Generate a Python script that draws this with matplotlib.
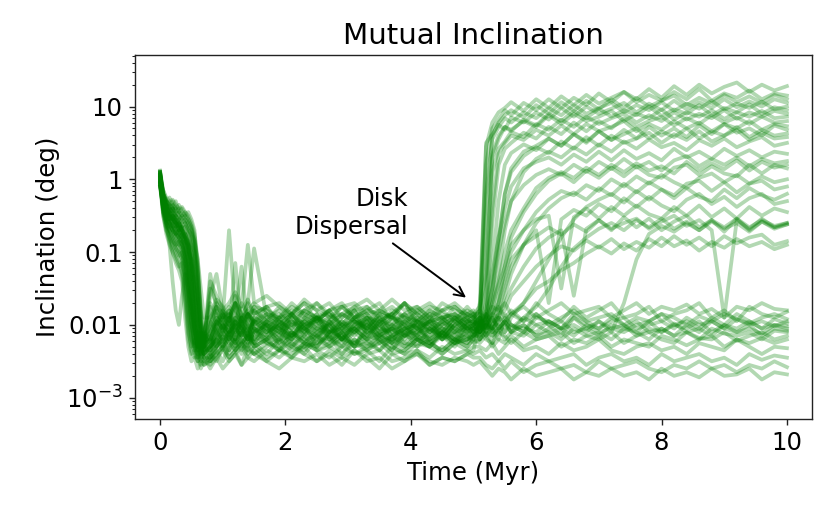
import matplotlib
matplotlib.use("Agg")
import matplotlib.pyplot as plt
import numpy as np
from matplotlib.ticker import FixedLocator, FixedFormatter, LogLocator, NullFormatter

plt.rcParams['font.family'] = ['DejaVu Sans']
FS = 17.6

# Time samples (Myr)
T_early = [0.0, 0.05, 0.1, 0.15, 0.2, 0.25, 0.3, 0.35, 0.4, 0.45, 0.5, 0.55, 0.6, 0.65, 0.7,
           0.8, 0.9, 1.0, 1.1, 1.2, 1.3, 1.4, 1.5, 1.7, 1.9, 2.1, 2.3, 2.5, 2.7, 2.9, 3.1,
           3.3, 3.5, 3.7, 3.9, 4.1, 4.3, 4.5, 4.7, 4.9, 5.0]
T_late = [5.1, 5.2, 5.3, 5.4, 5.5, 5.6, 5.8, 6.0, 6.2, 6.4, 6.6, 6.8, 7.0, 7.2, 7.4, 7.6,
          7.8, 8.0, 8.2, 8.4, 8.6, 8.8, 9.0, 9.2, 9.4, 9.6, 9.8, 10.0]

# log10 of mutual inclination (deg)
upper_early = [
    [0.1, -0.2, -0.3, -0.35, -0.3, -0.4, -0.45, -0.4, -0.5, -0.55, -0.65, -0.9, -1.5, -2.1, -2.3,
     -2.1, -1.9, -2.0, -2.15, -1.95, -2.05, -2.2, -1.9, -2.0, -2.1, -1.85, -2.0, -2.1, -1.95, -2.2, -2.0, -1.9, -2.1, -2.0, -2.15, -1.95, -2.05, -2.2, -2.0, -1.9, -2.0],
    [0.0, -0.3, -0.35, -0.55, -0.6, -0.55, -0.7, -0.8, -0.75, -1.0, -1.1, -1.5, -2.0, -2.3, -2.2,
     -1.5, -1.7, -1.9, -0.7, -1.8, -1.95, -1.7, -1.85, -1.75, -1.95, -1.8, -1.9, -1.7, -1.85, -2.0, -1.8, -1.75, -1.9, -1.85, -1.7, -1.95, -1.8, -1.9, -1.85, -1.95, -1.9],
    [-0.05, -0.35, -0.5, -0.45, -0.65, -0.7, -0.8, -0.75, -1.0, -1.3, -1.8, -2.1, -2.3, -2.1, -2.2,
     -2.35, -2.2, -2.3, -2.1, -2.25, -2.4, -2.15, -2.3, -2.2, -2.35, -2.1, -2.25, -2.3, -2.15, -2.4, -2.2, -2.3, -2.15, -2.25, -2.35, -2.2, -2.3, -2.1, -2.25, -2.2, -2.15],
    [0.12, -0.15, -0.25, -0.3, -0.28, -0.35, -0.4, -0.38, -0.45, -0.5, -0.6, -0.75, -1.1, -1.8, -2.3,
     -1.4, -1.6, -1.8, -1.7, -1.55, -1.75, -0.9, -1.7, -1.6, -1.75, -1.85, -1.65, -1.8, -1.7, -1.9, -1.75, -1.65, -1.8, -1.9, -1.7, -1.85, -1.75, -1.8, -1.95, -1.75, -1.85],
    [0.05, -0.4, -0.6, -0.7, -0.8, -0.9, -0.85, -1.0, -1.2, -1.6, -2.0, -2.25, -2.1, -2.35, -2.2,
     -2.5, -2.4, -2.3, -2.45, -2.35, -2.55, -2.3, -2.4, -2.5, -2.35, -2.45, -2.3, -2.5, -2.4, -2.55, -2.35, -2.45, -2.6, -2.4, -2.5, -2.35, -2.55, -2.45, -2.5, -2.4, -2.35],
    [-0.1, -0.3, -0.45, -0.4, -0.55, -0.6, -0.7, -0.65, -0.85, -0.9, -1.2, -1.6, -2.2, -2.4, -2.25,
     -1.3, -1.8, -2.0, -2.1, -1.9, -1.2, -2.05, -1.95, -2.1, -2.0, -2.2, -1.9, -2.05, -2.15, -1.95, -2.1, -2.0, -1.9, -2.15, -2.05, -2.0, -2.1, -1.95, -2.05, -2.15, -2.0],
    [0.08, -0.35, -0.6, -0.9, -1.4, -1.8, -2.0, -1.6, -1.3, -1.5, -1.8, -2.1, -2.3, -2.2, -2.1,
     -2.2, -2.0, -2.25, -2.1, -2.3, -2.0, -2.15, -2.25, -2.05, -2.2, -2.15, -2.0, -2.3, -2.1, -2.05, -2.25, -2.15, -2.0, -2.2, -2.1, -2.3, -2.05, -2.15, -2.2, -2.0, -2.1],
    [0.0, -0.2, -0.3, -0.25, -0.35, -0.4, -0.35, -0.45, -0.5, -0.45, -0.55, -0.7, -1.3, -2.0, -2.2,
     -1.6, -1.3, -1.8, -1.9, -1.7, -2.0, -1.85, -2.05, -1.9, -1.8, -2.0, -1.95, -1.85, -2.1, -1.9, -1.8, -2.05, -1.95, -1.85, -2.0, -1.9, -2.1, -1.95, -1.85, -2.0, -1.95],
    [0.1, -0.3, -0.45, -0.55, -0.5, -0.65, -0.75, -0.85, -0.9, -1.2, -1.6, -2.0, -2.15, -2.25, -2.4,
     -2.3, -2.1, -1.95, -2.05, -2.2, -1.9, -2.0, -2.1, -1.95, -2.05, -1.9, -2.15, -2.0, -1.9, -2.1, -2.05, -2.2, -1.95, -2.0, -2.1, -1.9, -2.0, -2.15, -1.95, -2.05, -2.0],
    [0.06, -0.25, -0.35, -0.3, -0.4, -0.5, -0.45, -0.55, -0.6, -0.7, -0.95, -1.4, -2.0, -2.25, -2.15,
     -2.25, -1.85, -2.1, -1.9, -2.2, -1.95, -2.15, -1.8, -2.05, -2.25, -1.9, -2.1, -1.85, -2.2, -2.0, -1.8, -2.15, -1.95, -2.25, -1.9, -2.05, -1.85, -2.2, -2.0, -1.9, -2.05],
    [-0.02, -0.4, -0.55, -0.65, -0.6, -0.75, -0.8, -0.95, -1.1, -1.45, -1.9, -2.3, -2.4, -2.2, -2.3,
     -2.4, -2.05, -2.3, -2.1, -2.0, -2.25, -2.35, -2.05, -2.2, -2.0, -2.3, -2.1, -2.25, -1.95, -2.15, -2.3, -2.05, -2.2, -2.35, -2.1, -2.0, -2.25, -2.15, -2.3, -2.05, -2.1],
    [0.1, -0.2, -0.3, -0.4, -0.45, -0.4, -0.5, -0.6, -0.55, -0.65, -0.8, -1.05, -1.5, -2.05, -2.35,
     -1.75, -2.0, -1.8, -1.95, -1.7, -2.05, -1.85, -1.95, -1.75, -2.0, -1.85, -1.7, -1.95, -1.8, -2.05, -1.9, -1.75, -1.95, -1.85, -1.7, -2.0, -1.85, -1.95, -1.75, -1.9, -1.85],
    [-0.08, -0.45, -0.65, -0.7, -0.8, -0.95, -1.05, -1.0, -1.3, -1.75, -2.15, -2.35, -2.25, -2.4, -2.3,
     -2.3, -2.15, -2.0, -2.2, -2.05, -1.95, -2.25, -2.1, -2.0, -2.3, -2.15, -2.05, -1.95, -2.2, -2.1, -2.3, -2.0, -2.15, -2.05, -2.25, -2.1, -1.95, -2.2, -2.1, -2.05, -2.15],
    [0.04, -0.3, -0.4, -0.5, -0.55, -0.5, -0.6, -0.7, -0.8, -0.95, -1.3, -1.85, -2.2, -2.35, -2.2,
     -1.95, -2.1, -2.2, -1.9, -2.05, -2.15, -1.85, -2.0, -2.1, -1.9, -2.2, -2.0, -1.9, -2.1, -2.2, -1.95, -2.05, -1.85, -2.1, -2.0, -2.15, -1.9, -2.05, -2.15, -1.95, -2.0],
]
upper_late = [
    [-1.9, 0.2, 0.7, 0.82, 0.95, 0.88, 1.05, 0.95, 1.1, 0.98, 1.12, 1.02, 1.18, 1.06, 1.2, 1.1, 1.24, 1.12, 1.28, 1.16, 1.3, 1.18, 1.27, 1.33, 1.2, 1.3, 1.22, 1.28],
    [-1.8, -0.5, 0.6, 0.78, 0.88, 0.95, 0.85, 1.02, 0.9, 1.06, 0.94, 1.08, 0.96, 1.1, 0.98, 1.12, 1.0, 1.08, 1.15, 1.02, 1.12, 1.04, 1.16, 1.06, 1.14, 1.05, 1.16, 1.1],
    [-2.0, 0.5, 0.62, 0.75, 0.68, 0.85, 0.78, 0.92, 0.82, 0.98, 0.86, 1.0, 0.9, 0.97, 1.05, 0.92, 1.04, 0.95, 1.08, 0.96, 1.06, 0.98, 1.1, 0.99, 1.07, 1.0, 1.1, 1.05],
    [-2.1, -1.2, 0.3, 0.55, 0.72, 0.66, 0.82, 0.74, 0.9, 0.8, 0.94, 0.84, 0.97, 0.86, 0.95, 0.88, 1.0, 0.87, 0.96, 0.9, 1.02, 0.88, 0.98, 0.92, 1.03, 0.9, 0.99, 0.95],
    [-1.95, -1.5, 0.1, 0.42, 0.52, 0.65, 0.58, 0.76, 0.68, 0.82, 0.72, 0.86, 0.76, 0.84, 0.9, 0.78, 0.88, 0.8, 0.92, 0.82, 0.9, 0.84, 0.95, 0.83, 0.92, 0.86, 0.94, 0.9],
    [-2.05, -1.9, -0.6, 0.2, 0.42, 0.5, 0.64, 0.56, 0.72, 0.62, 0.78, 0.66, 0.8, 0.7, 0.84, 0.72, 0.8, 0.86, 0.74, 0.84, 0.76, 0.88, 0.78, 0.85, 0.76, 0.86, 0.78, 0.8],
    [-2.1, -1.8, -1.2, -0.3, 0.2, 0.36, 0.48, 0.4, 0.56, 0.46, 0.62, 0.5, 0.66, 0.54, 0.68, 0.56, 0.72, 0.6, 0.7, 0.58, 0.74, 0.62, 0.76, 0.64, 0.7, 0.6, 0.74, 0.68],
    [-2.2, -2.0, -1.6, -0.9, -0.2, 0.1, 0.32, 0.44, 0.36, 0.52, 0.42, 0.58, 0.46, 0.6, 0.5, 0.56, 0.64, 0.5, 0.62, 0.54, 0.66, 0.52, 0.6, 0.68, 0.54, 0.64, 0.56, 0.58],
    [-1.9, -2.05, -1.7, -1.3, -0.7, -0.3, 0.1, 0.28, 0.38, 0.3, 0.44, 0.34, 0.48, 0.38, 0.52, 0.42, 0.55, 0.44, 0.5, 0.4, 0.54, 0.46, 0.56, 0.44, 0.52, 0.58, 0.46, 0.5],
    [-1.7, 0.45, 0.78, 0.92, 0.98, 1.06, 0.94, 1.1, 0.98, 1.14, 1.02, 1.16, 1.04, 1.12, 1.2, 1.06, 1.16, 1.08, 1.2, 1.1, 1.24, 1.08, 1.18, 1.12, 1.22, 1.1, 1.18, 1.15],
    [-2.0, -0.2, 0.55, 0.72, 0.84, 0.78, 0.92, 0.84, 0.98, 0.88, 1.02, 0.9, 0.98, 1.05, 0.92, 1.02, 0.95, 1.06, 0.94, 1.04, 0.97, 1.08, 0.96, 1.04, 0.98, 1.07, 0.96, 1.0],
    [-1.75, -1.3, 0.35, 0.6, 0.72, 0.68, 0.8, 0.72, 0.88, 0.76, 0.9, 0.8, 0.86, 0.94, 0.8, 0.9, 0.84, 0.96, 0.82, 0.92, 0.86, 0.95, 0.83, 0.92, 0.86, 0.94, 0.84, 0.86],
    [-2.05, -1.7, -0.4, 0.35, 0.5, 0.6, 0.54, 0.68, 0.6, 0.74, 0.62, 0.76, 0.66, 0.72, 0.8, 0.66, 0.76, 0.68, 0.8, 0.7, 0.78, 0.66, 0.76, 0.7, 0.8, 0.68, 0.76, 0.73],
    [-2.1, -1.9, -1.5, -0.8, -0.2, 0.15, 0.38, 0.46, 0.56, 0.46, 0.62, 0.52, 0.66, 0.54, 0.62, 0.7, 0.56, 0.66, 0.58, 0.7, 0.56, 0.66, 0.6, 0.72, 0.58, 0.68, 0.6, 0.63],
]

middle_early = [
    [-0.05, -0.45, -0.6, -0.75, -0.85, -0.9, -1.0, -1.1, -1.4, -1.9, -2.2, -2.3, -2.2, -2.3, -2.15,
     -2.0, -1.75, -1.9, -1.8, -1.95, -1.7, -1.85, -1.8, -1.95, -1.75, -1.9, -1.8, -1.7, -1.9, -1.85, -1.75, -1.95, -1.8, -1.9, -1.7, -1.85, -1.95, -1.8, -1.75, -1.9, -1.85],
    [0.05, -0.2, -0.35, -0.45, -0.55, -0.5, -0.6, -0.7, -0.65, -0.75, -0.9, -1.0, -1.3, -1.8, -2.1,
     -2.3, -2.2, -2.05, -2.15, -2.25, -2.1, -2.2, -2.05, -2.25, -2.15, -2.1, -2.2, -2.3, -2.1, -2.15, -2.05, -2.2, -2.15, -2.25, -2.1, -2.2, -2.15, -2.05, -2.2, -2.1, -2.15],
    [-0.1, -0.4, -0.5, -0.6, -0.65, -0.75, -0.7, -0.8, -0.95, -1.1, -1.4, -1.9, -2.3, -2.45, -2.35,
     -2.4, -2.5, -2.3, -2.2, -2.35, -2.25, -2.15, -2.3, -2.2, -2.35, -2.25, -2.4, -2.2, -2.3, -2.15, -2.3, -2.25, -2.35, -2.2, -2.3, -2.15, -2.25, -2.35, -2.2, -2.3, -2.2],
    [0.07, -0.3, -0.4, -0.35, -0.5, -0.55, -0.65, -0.6, -0.75, -0.9, -1.1, -1.5, -1.9, -2.1, -2.25,
     -2.0, -1.7, -1.85, -1.95, -1.6, -1.9, -1.7, -0.95, -1.9, -2.0, -1.85, -2.05, -1.9, -2.0, -1.85, -1.95, -2.1, -1.9, -2.0, -1.85, -2.05, -1.95, -1.9, -2.05, -1.95, -1.95],
    [0.02, -0.5, -0.7, -0.8, -0.9, -1.0, -1.1, -1.25, -1.6, -2.1, -2.3, -2.2, -2.35, -2.3, -2.45,
     -2.45, -2.2, -2.1, -2.25, -2.0, -2.15, -2.1, -2.25, -2.0, -2.1, -2.2, -2.05, -2.15, -2.25, -2.1, -2.0, -2.15, -2.2, -2.05, -2.15, -2.1, -2.2, -2.05, -2.1, -2.2, -2.1],
    [0.1, -0.2, -0.35, -0.45, -0.4, -0.55, -0.6, -0.7, -0.75, -0.85, -1.0, -1.25, -1.6, -2.0, -2.2,
     -2.1, -1.95, -2.05, -1.9, -2.1, -2.0, -1.85, -2.05, -2.15, -1.95, -2.05, -1.9, -2.0, -2.1, -1.95, -2.05, -1.9, -2.0, -2.15, -2.05, -1.95, -2.1, -2.0, -1.9, -2.05, -2.0],
    [-0.02, -0.3, -0.55, -0.6, -0.7, -0.65, -0.8, -0.85, -0.95, -1.2, -1.5, -1.95, -2.2, -2.3, -2.4,
     -2.5, -2.3, -2.2, -2.1, -2.0, -2.15, -1.95, -2.1, -2.0, -2.2, -1.95, -2.05, -2.15, -2.0, -2.1, -1.9, -2.05, -2.15, -2.0, -1.95, -2.1, -2.05, -2.2, -2.0, -2.1, -2.05],
    [0.06, -0.25, -0.3, -0.4, -0.35, -0.45, -0.5, -0.55, -0.5, -0.6, -0.7, -1.0, -1.6, -2.2, -2.1,
     -1.7, -1.85, -1.95, -1.8, -2.0, -1.85, -1.9, -1.75, -1.95, -1.85, -2.0, -1.8, -1.9, -1.95, -1.75, -1.9, -1.85, -2.0, -1.8, -1.9, -1.95, -1.8, -1.9, -1.85, -1.95, -1.9],
    [-0.08, -0.4, -0.65, -0.8, -0.95, -1.05, -1.15, -1.3, -1.7, -2.2, -2.4, -2.35, -2.5, -2.4, -2.55,
     -2.45, -2.35, -2.5, -2.3, -2.2, -2.35, -2.25, -2.4, -2.3, -2.2, -2.35, -2.3, -2.15, -2.3, -2.4, -2.25, -2.35, -2.2, -2.3, -2.4, -2.25, -2.3, -2.15, -2.25, -2.2, -2.15],
    [0.04, -0.25, -0.35, -0.4, -0.45, -0.5, -0.55, -0.5, -0.6, -0.7, -0.75, -0.85, -1.1, -1.5, -1.9,
     -1.9, -1.65, -1.75, -1.9, -1.7, -1.8, -1.65, -1.85, -1.75, -1.7, -1.85, -1.7, -1.8, -1.9, -1.75, -1.7, -1.85, -1.8, -1.65, -1.8, -1.75, -1.9, -1.7, -1.8, -1.85, -1.8],
    [0.08, -0.35, -0.5, -0.6, -0.7, -0.75, -0.8, -0.9, -1.05, -1.3, -1.7, -2.05, -2.3, -2.2, -2.4,
     -2.2, -1.9, -2.1, -2.0, -2.15, -1.9, -2.05, -2.2, -1.95, -2.1, -2.0, -2.15, -1.9, -2.05, -2.2, -2.0, -1.9, -2.1, -2.05, -2.2, -1.95, -2.05, -2.15, -1.95, -2.1, -2.05],
    [-0.04, -0.25, -0.35, -0.45, -0.4, -0.5, -0.55, -0.65, -0.6, -0.75, -0.9, -1.15, -1.6, -2.1, -2.3,
     -2.0, -1.8, -1.95, -1.85, -2.05, -1.9, -1.8, -2.0, -1.85, -1.95, -2.05, -1.8, -1.9, -2.0, -1.85, -1.95, -2.05, -1.85, -1.9, -2.0, -1.8, -1.95, -1.9, -2.05, -1.85, -1.9],
    [0.09, -0.4, -0.55, -0.7, -0.75, -0.85, -0.95, -1.05, -1.25, -1.6, -2.05, -2.3, -2.45, -2.35, -2.4,
     -2.45, -2.3, -2.15, -2.35, -2.2, -2.3, -2.1, -2.25, -2.4, -2.2, -2.3, -2.15, -2.35, -2.25, -2.1, -2.3, -2.2, -2.35, -2.15, -2.25, -2.3, -2.2, -2.4, -2.25, -2.15, -2.25],
    [0.01, -0.3, -0.45, -0.5, -0.6, -0.65, -0.6, -0.75, -0.85, -1.0, -1.35, -1.8, -2.15, -2.3, -2.25,
     -2.15, -2.3, -2.05, -1.95, -2.2, -2.1, -2.0, -2.25, -2.15, -1.95, -2.1, -2.25, -2.05, -2.0, -2.2, -2.1, -1.95, -2.25, -2.15, -2.05, -2.0, -2.2, -2.1, -2.25, -2.0, -2.1],
    [-0.06, -0.35, -0.45, -0.55, -0.5, -0.6, -0.7, -0.65, -0.8, -0.9, -1.15, -1.6, -2.05, -2.3, -2.4,
     -2.3, -2.0, -1.85, -2.1, -1.95, -2.05, -2.2, -1.9, -2.0, -2.15, -1.85, -2.05, -2.2, -1.95, -2.05, -1.9, -2.1, -2.0, -1.85, -2.15, -2.05, -1.95, -2.1, -1.9, -2.05, -2.0],
]
middle_late = [
    [-2.0, -1.9, -1.5, -1.0, -0.6, -0.3, -0.08, 0.06, 0.14, 0.06, 0.2, 0.1, 0.24, 0.14, 0.28, 0.16, 0.24, 0.12, 0.26, 0.32, 0.18, 0.28, 0.2, 0.3, 0.18, 0.28, 0.22, 0.25],
    [-2.1, -2.0, -1.8, -1.4, -1.0, -0.7, -0.4, -0.12, 0.02, 0.1, 0.02, 0.16, 0.06, 0.2, 0.1, 0.22, 0.12, 0.18, 0.08, 0.24, 0.12, 0.22, 0.14, 0.26, 0.12, 0.24, 0.16, 0.2],
    [-1.95, -2.1, -1.9, -1.6, -1.3, -1.0, -0.7, -0.45, -0.28, -0.16, -0.22, -0.08, -0.16, 0.0, -0.1, 0.04, -0.06, 0.06, -0.04, -0.12, 0.02, 0.08, -0.04, 0.06, -0.06, 0.04, -0.04, 0.0],
    [-2.05, -1.95, -2.1, -1.8, -1.5, -1.2, -0.9, -0.7, -1.7, -0.55, -0.42, -0.5, -0.34, -0.44, -0.26, -0.38, -0.24, -0.36, -0.44, -0.28, -0.2, -0.34, -0.24, -0.38, -0.26, -0.2, -0.34, -0.3],
    [-2.2, -2.0, -2.1, -1.9, -1.7, -1.5, -1.2, -0.95, -0.8, -0.7, -1.6, -0.68, -0.56, -0.7, -0.52, -0.66, -0.54, -0.7, -0.58, -0.5, -0.66, -0.56, -0.72, -0.54, -0.66, -0.56, -0.64, -0.6],
    [-1.9, -2.05, -1.85, -1.7, -1.4, -1.1, -0.9, -0.78, -0.66, -0.76, -0.62, -0.72, -0.56, -0.68, -0.6, -0.54, -0.68, -0.58, -0.5, -0.64, -0.56, -0.7, -1.9, -0.56, -0.68, -0.54, -0.66, -0.6],
    [-2.1, -1.95, -2.05, -2.2, -1.9, -2.0, -2.1, -1.85, -2.0, -2.15, -1.9, -2.05, -1.95, -2.1, -1.7, -1.1, -0.75, -0.64, -0.72, -0.6, -0.7, -0.58, -0.68, -0.6, -0.72, -0.58, -0.68, -0.62],
    [-2.0, -2.15, -2.0, -1.85, -1.8, -1.6, -1.4, -1.2, -1.05, -0.92, -0.98, -0.84, -0.94, -0.82, -0.96, -0.86, -0.94, -0.8, -0.92, -0.84, -0.98, -0.86, -0.94, -0.82, -0.92, -0.86, -0.96, -0.9],
    [-2.15, -2.0, -1.9, -2.05, -1.95, -1.85, -1.7, -1.5, -1.4, -1.25, -1.15, -1.02, -0.92, -1.02, -0.88, -0.98, -0.82, -0.92, -0.78, -0.9, -0.8, -0.92, -0.78, -0.88, -0.8, -0.76, -0.9, -0.85],
    [-2.0, -1.8, -1.3, -0.8, -0.4, -0.1, 0.15, 0.24, 0.3, 0.2, 0.34, 0.24, 0.38, 0.26, 0.4, 0.28, 0.36, 0.26, 0.42, 0.3, 0.38, 0.28, 0.42, 0.32, 0.4, 0.3, 0.38, 0.35],
    [-2.0, -1.85, -2.05, -1.7, -1.2, -0.8, -0.45, -0.2, -0.02, 0.08, -0.04, 0.12, 0.02, 0.16, 0.04, 0.18, 0.06, 0.02, 0.16, 0.2, 0.06, 0.18, 0.08, 0.04, 0.2, 0.08, 0.2, 0.15],
    [-1.9, -2.0, -1.85, -1.9, -1.6, -1.3, -0.9, -0.6, -0.4, -0.26, -0.18, -0.28, -0.12, -0.22, -0.06, -0.18, -0.04, -0.14, -0.22, -0.06, -0.02, -0.16, -0.04, -0.18, -0.06, -0.02, -0.14, -0.1],
    [-2.2, -2.1, -2.25, -2.0, -2.1, -1.9, -1.7, -1.4, -1.1, -0.8, -0.55, -0.38, -0.28, -0.2, -0.32, -0.16, -0.28, -0.14, -0.26, -0.12, -0.24, -0.3, -0.14, -0.26, -0.12, -0.22, -0.28, -0.2],
    [-2.05, -1.9, -1.7, -1.45, -1.2, -0.9, -0.7, -0.55, -0.5, -1.5, -0.52, -0.4, -0.54, -0.38, -0.5, -0.36, -0.48, -0.54, -0.38, -0.5, -0.36, -0.52, -0.4, -0.54, -0.38, -0.5, -0.4, -0.45],
    [-1.95, -2.1, -1.9, -2.05, -1.95, -2.1, -1.9, -1.75, -1.5, -1.2, -0.95, -0.8, -0.68, -0.6, -0.7, -0.56, -0.66, -0.54, -0.68, -0.58, -0.7, -0.56, -0.66, -0.54, -0.7, -0.58, -0.66, -0.62],
]

lower_early = [
    [-0.06, -0.35, -0.45, -0.5, -0.55, -0.65, -0.6, -0.75, -0.8, -0.95, -1.2, -1.55, -2.0, -2.25, -2.2,
     -2.2, -2.0, -1.9, -1.75, -1.85, -1.95, -1.8, -1.7, -1.85, -1.9, -1.75, -1.85, -1.95, -1.8, -1.7, -1.9, -1.8, -1.85, -1.75, -1.9, -1.8, -1.7, -1.85, -1.9, -1.8, -1.85],
    [0.09, -0.2, -0.4, -0.55, -0.5, -0.6, -0.7, -0.75, -0.9, -1.15, -1.6, -2.05, -2.3, -2.5, -2.35,
     -2.3, -2.15, -2.0, -2.1, -1.9, -2.05, -2.15, -1.95, -2.05, -1.9, -2.1, -2.0, -1.95, -2.1, -2.05, -1.95, -2.0, -2.1, -1.9, -2.05, -2.15, -1.95, -2.0, -2.1, -1.95, -1.95],
    [-0.03, -0.45, -0.7, -0.85, -1.0, -1.1, -1.2, -1.15, -1.5, -2.0, -2.35, -2.45, -2.3, -2.4, -2.5,
     -2.4, -2.3, -2.2, -2.35, -2.1, -2.25, -2.15, -2.3, -2.2, -2.1, -2.25, -2.35, -2.15, -2.2, -2.3, -2.1, -2.25, -2.2, -2.35, -2.15, -2.2, -2.3, -2.1, -2.2, -2.25, -2.15],
    [0.11, -0.25, -0.4, -0.45, -0.55, -0.6, -0.55, -0.7, -0.8, -0.9, -1.1, -1.4, -1.85, -2.15, -2.3,
     -2.2, -2.05, -1.9, -2.1, -1.15, -2.0, -2.1, -1.95, -2.1, -2.0, -2.15, -1.95, -2.05, -2.1, -2.0, -2.15, -1.95, -2.05, -2.1, -1.95, -2.05, -2.15, -2.0, -1.9, -2.05, -2.05],
    [0.0, -0.35, -0.45, -0.55, -0.65, -0.75, -0.7, -0.9, -1.05, -1.35, -1.75, -2.1, -2.3, -2.2, -2.35,
     -2.35, -2.25, -2.1, -2.2, -2.05, -2.15, -2.25, -2.1, -2.2, -2.05, -2.15, -2.25, -2.1, -2.15, -2.25, -2.05, -2.2, -2.1, -2.25, -2.15, -2.05, -2.2, -2.1, -2.15, -2.25, -2.1],
    [0.03, -0.15, -0.3, -0.35, -0.4, -0.3, -0.45, -0.5, -0.45, -0.55, -0.65, -0.8, -1.2, -1.9, -2.25,
     -2.1, -1.95, -1.85, -2.0, -1.9, -2.05, -1.85, -1.95, -2.0, -1.9, -1.85, -2.0, -1.9, -1.8, -2.0, -1.95, -1.85, -2.05, -1.9, -1.95, -1.85, -2.0, -1.9, -1.95, -1.85, -1.9],
    [-0.04, -0.4, -0.55, -0.6, -0.7, -0.8, -0.9, -0.85, -1.1, -1.5, -2.0, -2.3, -2.45, -2.3, -2.4,
     -2.3, -2.2, -2.35, -2.15, -2.25, -2.1, -2.2, -2.05, -2.15, -2.25, -2.1, -2.2, -2.15, -2.05, -2.2, -2.25, -2.1, -2.15, -2.2, -2.05, -2.15, -2.25, -2.1, -2.2, -2.15, -2.2],
    [0.07, -0.3, -0.35, -0.5, -0.45, -0.6, -0.65, -0.7, -0.8, -0.85, -1.05, -1.35, -1.8, -2.2, -2.3,
     -2.2, -2.3, -2.15, -2.25, -2.35, -2.2, -2.3, -2.15, -2.25, -2.35, -2.2, -2.3, -2.25, -2.15, -2.3, -2.2, -2.35, -2.25, -2.15, -2.3, -2.2, -2.25, -2.35, -2.2, -2.3, -2.2],
    [0.02, -0.25, -0.4, -0.45, -0.5, -0.6, -0.65, -0.7, -0.75, -0.9, -1.2, -1.7, -2.1, -2.2, -2.05,
     -1.9, -1.75, -1.85, -2.0, -1.7, -1.85, -1.95, -1.75, -1.8, -1.9, -1.7, -1.85, -1.95, -1.8, -1.75, -1.9, -1.8, -1.7, -1.95, -1.85, -1.75, -1.9, -1.8, -1.7, -1.85, -1.9],
    [-0.05, -0.4, -0.5, -0.65, -0.7, -0.8, -0.9, -0.95, -1.15, -1.5, -1.95, -2.25, -2.35, -2.2, -2.3,
     -2.2, -1.95, -2.05, -1.85, -2.0, -1.9, -2.1, -1.95, -1.85, -2.05, -1.95, -2.1, -1.9, -1.85, -2.0, -2.1, -1.9, -1.95, -2.05, -1.85, -1.95, -2.0, -2.1, -1.9, -2.0, -1.95],
    [0.06, -0.2, -0.3, -0.35, -0.4, -0.45, -0.4, -0.5, -0.55, -0.6, -0.7, -0.85, -1.25, -1.95, -2.3,
     -2.35, -2.1, -2.0, -2.2, -1.95, -2.1, -2.05, -2.2, -1.95, -2.05, -2.15, -1.95, -2.1, -2.0, -2.2, -2.05, -1.95, -2.15, -2.05, -2.0, -2.2, -2.05, -1.95, -2.1, -2.0, -2.05],
    [-0.02, -0.45, -0.6, -0.7, -0.85, -0.95, -1.0, -1.1, -1.35, -1.8, -2.2, -2.4, -2.5, -2.35, -2.45,
     -2.5, -2.35, -2.25, -2.4, -2.3, -2.2, -2.35, -2.4, -2.25, -2.3, -2.45, -2.25, -2.35, -2.3, -2.2, -2.4, -2.3, -2.25, -2.4, -2.35, -2.2, -2.3, -2.4, -2.25, -2.35, -2.3],
]
lower_late = [
    [-1.85, -1.9, -1.75, -1.8, -1.7, -1.85, -1.75, -1.9, -1.8, -1.7, -1.85, -1.8, -1.75, -1.9, -1.8, -1.7, -1.85, -1.75, -1.8, -1.72, -1.85, -1.78, -1.9, -1.75, -1.8, -1.7, -1.78, -1.8],
    [-2.0, -1.85, -1.95, -1.9, -2.0, -1.85, -1.95, -1.85, -2.0, -1.9, -1.8, -1.95, -1.9, -1.85, -2.0, -1.9, -1.95, -1.85, -1.9, -2.0, -1.88, -1.95, -1.85, -1.92, -1.98, -1.9, -1.85, -1.92],
    [-1.9, -2.05, -2.0, -1.9, -1.95, -2.05, -1.9, -2.0, -1.95, -2.05, -1.9, -2.0, -2.05, -1.95, -1.9, -2.05, -2.0, -1.95, -2.05, -1.9, -2.0, -1.95, -2.05, -1.92, -2.0, -1.95, -2.02, -1.95],
    [-2.1, -2.0, -2.05, -1.95, -2.1, -2.0, -2.05, -2.1, -1.95, -2.05, -2.0, -2.1, -1.95, -2.05, -2.1, -2.0, -1.95, -2.1, -2.0, -2.05, -1.95, -2.1, -2.0, -2.05, -1.95, -2.05, -2.0, -2.02],
    [-2.0, -2.15, -2.05, -2.1, -2.0, -2.1, -2.15, -2.0, -2.1, -2.05, -2.15, -2.0, -2.1, -2.05, -2.0, -2.15, -2.05, -2.1, -1.98, -2.1, -2.05, -2.15, -2.0, -2.1, -2.05, -2.12, -2.0, -2.05],
    [-2.2, -2.1, -2.15, -2.05, -2.2, -2.1, -2.0, -2.15, -2.1, -2.2, -2.05, -2.15, -2.1, -2.2, -2.05, -2.1, -2.2, -2.05, -2.15, -2.1, -2.2, -2.05, -2.12, -2.15, -2.1, -2.2, -2.08, -2.1],
    [-2.1, -2.2, -2.25, -2.1, -2.15, -2.25, -2.1, -2.2, -2.15, -2.1, -2.25, -2.15, -2.2, -2.1, -2.25, -2.15, -2.1, -2.2, -2.25, -2.1, -2.18, -2.2, -2.1, -2.22, -2.15, -2.1, -2.2, -2.15],
    [-2.25, -2.15, -2.3, -2.2, -2.25, -2.15, -2.3, -2.2, -2.15, -2.3, -2.2, -2.25, -2.15, -2.3, -2.2, -2.25, -2.3, -2.15, -2.2, -2.28, -2.2, -2.15, -2.3, -2.2, -2.25, -2.18, -2.25, -2.2],
    [-1.8, -1.95, -1.85, -1.75, -1.9, -1.8, -1.95, -1.7, -1.85, -1.95, -1.75, -1.9, -1.8, -1.7, -1.9, -1.85, -1.75, -1.95, -1.85, -1.8, -1.7, -1.9, -1.8, -1.95, -1.75, -1.85, -1.9, -1.82],
    [-2.0, -1.9, -2.05, -1.95, -1.85, -2.0, -2.1, -1.9, -1.95, -2.05, -1.85, -1.95, -2.05, -1.9, -2.0, -2.1, -1.95, -1.85, -2.0, -1.95, -2.05, -1.9, -2.0, -1.85, -1.95, -2.05, -1.92, -1.98],
    [-2.1, -2.0, -2.15, -2.05, -1.95, -2.1, -2.0, -2.15, -2.05, -1.95, -2.1, -2.05, -2.15, -2.0, -2.05, -1.95, -2.1, -2.05, -2.15, -2.0, -2.1, -1.95, -2.05, -2.1, -2.0, -2.15, -2.05, -2.08],
    [-2.3, -2.35, -2.25, -2.4, -2.3, -2.2, -2.35, -2.3, -2.4, -2.25, -2.35, -2.3, -2.2, -2.35, -2.4, -2.3, -2.25, -2.35, -2.3, -2.4, -2.25, -2.3, -2.35, -2.2, -2.3, -2.4, -2.3, -2.32],
]

bottom_early = [
    [-0.1, -0.5, -0.75, -0.9, -1.0, -1.15, -1.25, -1.4, -1.9, -2.3, -2.5, -2.45, -2.6, -2.5, -2.55,
     -2.5, -2.4, -2.3, -2.45, -2.35, -2.25, -2.4, -2.3, -2.45, -2.35, -2.4, -2.25, -2.35, -2.45, -2.3, -2.4, -2.35, -2.5, -2.3, -2.4, -2.35, -2.45, -2.3, -2.4, -2.35, -2.4],
    [0.05, -0.3, -0.45, -0.5, -0.65, -0.6, -0.75, -0.8, -0.9, -1.1, -1.5, -2.0, -2.35, -2.55, -2.45,
     -2.6, -2.45, -2.35, -2.5, -2.4, -2.3, -2.45, -2.5, -2.35, -2.45, -2.3, -2.4, -2.5, -2.35, -2.45, -2.55, -2.4, -2.35, -2.5, -2.45, -2.4, -2.55, -2.45, -2.5, -2.4, -2.45],
    [-0.07, -0.35, -0.5, -0.6, -0.7, -0.75, -0.85, -0.9, -1.0, -1.25, -1.7, -2.15, -2.4, -2.6, -2.5,
     -2.55, -2.45, -2.6, -2.5, -2.4, -2.55, -2.45, -2.35, -2.5, -2.6, -2.45, -2.5, -2.4, -2.55, -2.45, -2.35, -2.5, -2.45, -2.6, -2.5, -2.4, -2.5, -2.55, -2.45, -2.5, -2.55],
]
bottom_late = [
    [-2.35, -2.45, -2.4, -2.5, -2.4, -2.45, -2.55, -2.4, -2.5, -2.45, -2.4, -2.55, -2.45, -2.4, -2.5, -2.45, -2.55, -2.4, -2.5, -2.45, -2.4, -2.5, -2.45, -2.55, -2.4, -2.48, -2.42, -2.45],
    [-2.45, -2.55, -2.6, -2.5, -2.6, -2.5, -2.65, -2.55, -2.5, -2.6, -2.55, -2.65, -2.5, -2.6, -2.55, -2.5, -2.6, -2.65, -2.55, -2.6, -2.5, -2.6, -2.55, -2.65, -2.55, -2.6, -2.5, -2.58],
    [-2.5, -2.6, -2.7, -2.6, -2.65, -2.75, -2.6, -2.7, -2.65, -2.6, -2.75, -2.65, -2.7, -2.6, -2.7, -2.65, -2.75, -2.6, -2.7, -2.65, -2.72, -2.6, -2.7, -2.68, -2.6, -2.75, -2.65, -2.68],
]

ytick_vals = [1e-3, 1e-2, 1e-1, 1, 10]
ytick_labels = ['$10^{-3}$', '0.01', '0.1', '1', '10']
xtick_vals = [0, 2, 4, 6, 8, 10]

fig = plt.figure(figsize=(8.3, 5.15), dpi=100)
ax = fig.add_axes([135 / 830, 1 - 419 / 515, 677 / 830, 364 / 515])

groups = [(upper_early, upper_late), (middle_early, middle_late),
          (lower_early, lower_late), (bottom_early, bottom_late)]
for early, late in groups:
    for e, l in zip(early, late):
        te = T_early[:len(e)]
        tl = T_late[:len(l)]
        t = np.array(list(te) + list(tl))
        y = 10.0 ** np.array(list(e[:len(te)]) + list(l[:len(tl)]))
        ax.plot(t, y, color='green', alpha=0.3, lw=2.7, solid_joinstyle='round')

ax.set_yscale('log')
ax.set_ylim(5.1e-4, 51)
ax.set_xlim(-0.4, 10.4)
ax.set_xticks(xtick_vals)
ax.yaxis.set_major_locator(FixedLocator(ytick_vals))
ax.yaxis.set_major_formatter(FixedFormatter(ytick_labels))
ax.yaxis.set_minor_locator(LogLocator(base=10, subs=np.arange(2, 10) * 1.0, numticks=20))
ax.yaxis.set_minor_formatter(NullFormatter())

for s in ax.spines.values():
    s.set_linewidth(1.0)
    s.set_color('#222222')
ax.tick_params(which='major', length=4.4, width=1.0, labelsize=FS, pad=4.4, color='#222222')
ax.tick_params(which='minor', length=2.5, width=0.75, color='#222222')

ax.set_title('Mutual Inclination', fontsize=21.1, pad=7.6)
ax.set_xlabel('Time (Myr)', fontsize=FS, labelpad=4.0)
ax.set_ylabel('Inclination (deg)', fontsize=FS, labelpad=4.0)

ax.annotate('Disk\nDispersal', xy=(4.917, 0.0225), xytext=(3.06, 0.344),
            ha='center', va='center', multialignment='right', fontsize=FS,
            arrowprops=dict(arrowstyle='->', color='black', lw=1.4))

fig.savefig('out.png', dpi=100)
